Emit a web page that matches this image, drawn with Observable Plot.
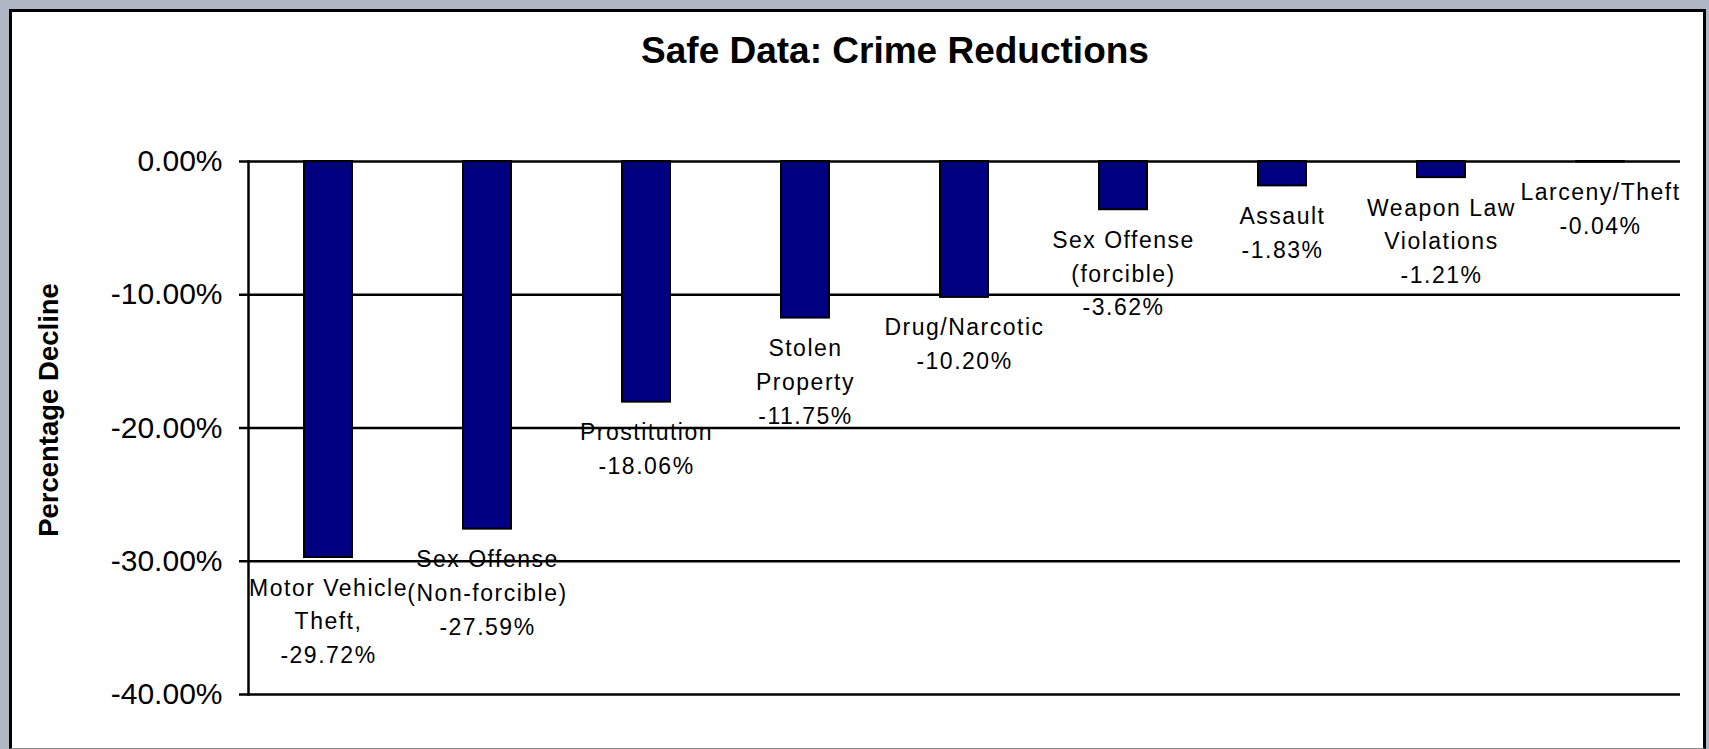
<!DOCTYPE html>
<html>
<head>
<meta charset="utf-8">
<script src="https://cdn.jsdelivr.net/npm/d3@7"></script>
<script src="https://cdn.jsdelivr.net/npm/@observablehq/plot@0.6"></script>
<style>
  html, body { margin: 0; padding: 0; width: 1709px; height: 749px; overflow: hidden; background: #B0B7C4; font-family: "Liberation Sans", Arial, sans-serif; }
  #panel { position: absolute; left: 9px; top: 9px; width: 1691px; height: 736px; background: #fff; border: 3px solid #000; border-bottom: 1px solid #888; }
  #title { position: absolute; left: 395px; top: 32px; width: 1000px; text-align: center; font-weight: bold; font-size: 37px; line-height: 37px; color: #000; }
  #chart { position: absolute; left: 0; top: 100px; }
  #chart svg { background: transparent; overflow: visible; }
</style>
</head>
<body>
<div id="panel"></div>
<div id="title">Safe Data: Crime Reductions</div>
<div id="chart"></div>
<script>
const categories = [
  "Motor Vehicle Theft",
  "Sex Offense (Non-forcible)",
  "Prostitution",
  "Stolen Property",
  "Drug/Narcotic",
  "Sex Offense (forcible)",
  "Assault",
  "Weapon Law Violations",
  "Larceny/Theft"
];
const labelText = [
  "Motor Vehicle\nTheft,",
  "Sex Offense\n(Non-forcible)",
  "Prostitution",
  "Stolen\nProperty",
  "Drug/Narcotic",
  "Sex Offense\n(forcible)",
  "Assault",
  "Weapon Law\nViolations",
  "Larceny/Theft"
];
const values = [-29.72, -27.59, -18.06, -11.75, -10.20, -3.62, -1.83, -1.21, -0.04];
const yTicks = [0, -10, -20, -30, -40];
const yLabel = "Percentage Decline";

const data = categories.map((c, i) => ({
  category: c,
  value: values[i],
  label: labelText[i] + "\n" + values[i].toFixed(2) + "%"
}));

const plot = Plot.plot({
  width: 1709,
  height: 649,
  marginTop: 61,
  marginBottom: 55,
  marginLeft: 248,
  marginRight: 29,
  style: { fontFamily: "Liberation Sans, Arial, sans-serif", color: "#000", background: "transparent" },
  x: { domain: categories, paddingInner: 0.7, paddingOuter: 0.35, axis: null },
  y: { domain: [-40, 0] },
  marks: [
    Plot.ruleY(yTicks, { stroke: "#000", strokeWidth: 2.5 }),
    Plot.barY(data, { x: "category", y: "value", fill: "#000080", stroke: "#000", strokeWidth: 2 }),
    Plot.frame({ anchor: "left", stroke: "#000", strokeWidth: 2.5 }),
    Plot.axisY({
      ticks: yTicks,
      tickFormat: d => d.toFixed(2) + "%",
      tickSize: 9,
      tickPadding: 17,
      fontSize: 30,
      stroke: "#000",
      strokeWidth: 2.5,
      label: null
    }),
    Plot.text([yLabel], {
      frameAnchor: "left",
      text: d => d,
      rotate: -90,
      textAnchor: "middle",
      lineAnchor: "middle",
      dx: -199,
      dy: -18,
      fontSize: 27.5,
      fontWeight: "bold",
      fill: "#000"
    }),
    Plot.text(data, {
      x: "category",
      y: "value",
      text: "label",
      lineAnchor: "top",
      dy: 14,
      fontSize: 23,
      lineHeight: 1.47,
      fill: "#000"
    })
  ]
});

d3.select(plot).selectAll('g[aria-label="text"] text').style("letter-spacing", "1.5px");
d3.select(plot).selectAll('g[aria-label="text"] text').filter(function () { return this.getAttribute("transform") && this.getAttribute("transform").includes("rotate"); }).style("letter-spacing", "0px");
document.getElementById("chart").appendChild(plot);
</script>
</body>
</html>
